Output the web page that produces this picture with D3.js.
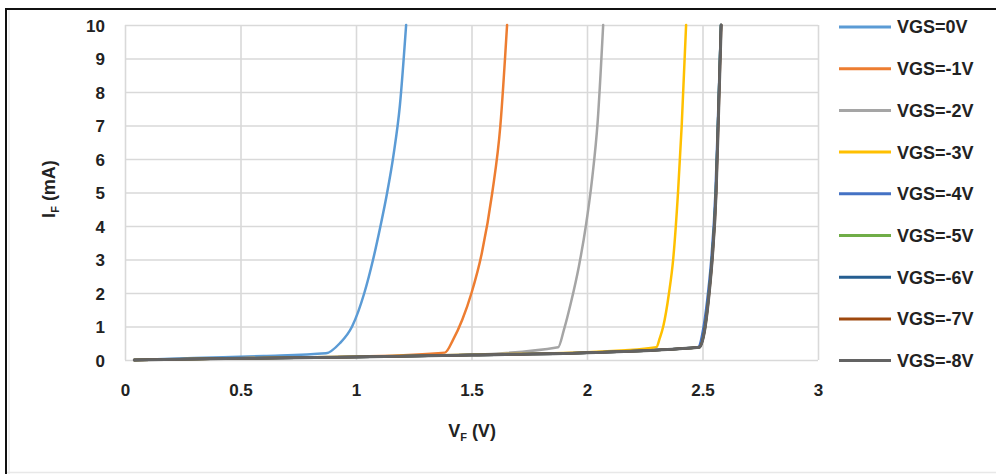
<!DOCTYPE html>
<html><head><meta charset="utf-8">
<script src="https://cdn.jsdelivr.net/npm/d3@7"></script>
<style>
html,body{margin:0;padding:0;background:#fff;}
svg{display:block;font-family:"Liberation Sans",Arial,sans-serif;}
</style></head>
<body><svg id="chart" width="996" height="474"></svg>
<script>
// ---- data ----
const seriesNames = ["VGS=0V","VGS=-1V","VGS=-2V","VGS=-3V","VGS=-4V","VGS=-5V","VGS=-6V","VGS=-7V","VGS=-8V"];
const seriesColors = ["#5B9BD5","#ED7D31","#A5A5A5","#FFC000","#4472C4","#70AD47","#255E91","#9E480E","#636363"];
const xTicks = [0, 0.5, 1, 1.5, 2, 2.5, 3];
const yTicks = [0,1,2,3,4,5,6,7,8,9,10];

const vf0 = [0.04, 0.3, 0.6, 0.87, 0.93, 0.983, 1.036, 1.074, 1.106, 1.135, 1.162, 1.19, 1.217];
const if0 = [0, 0.06, 0.12, 0.2, 0.5, 1, 2, 3, 4, 5, 6.1, 7.6, 10];
const vf1 = [0.04, 0.5, 1.0, 1.385, 1.42, 1.46, 1.50, 1.545, 1.59, 1.625, 1.654];
const if1 = [0, 0.05, 0.1, 0.22, 0.6, 1.2, 2, 3.2, 5, 7, 10];
const vf2 = [0.04, 0.5, 1.0, 1.5, 1.875, 1.90, 1.93, 1.965, 1.995, 2.022, 2.046, 2.07];
const if2 = [0, 0.05, 0.1, 0.16, 0.38, 0.9, 1.7, 2.8, 4.0, 5.4, 7.1, 10];
const vf3 = [0.04, 0.5, 1.0, 1.5, 2.0, 2.30, 2.315, 2.33, 2.355, 2.373, 2.394, 2.41, 2.429];
const if3 = [0, 0.05, 0.1, 0.16, 0.23, 0.38, 0.65, 1, 2, 3, 5, 7, 10];
const vf4 = [0.04, 0.5, 1.0, 1.5, 2.0, 2.48, 2.505, 2.524, 2.538, 2.556, 2.566, 2.58];
const if4 = [0, 0.05, 0.09, 0.15, 0.22, 0.38, 1, 2, 3, 5, 7, 10];
const vf5 = [0.04, 0.5, 1.0, 1.5, 2.0, 2.485, 2.511, 2.528, 2.541, 2.558, 2.567, 2.58];
const if5 = [0, 0.05, 0.09, 0.15, 0.22, 0.38, 1, 2, 3, 5, 7, 10];
const vf6 = [0.04, 0.5, 1.0, 1.5, 2.0, 2.485, 2.511, 2.528, 2.541, 2.558, 2.567, 2.58];
const if6 = [0, 0.05, 0.09, 0.15, 0.22, 0.38, 1, 2, 3, 5, 7, 10];
const vf7 = [0.04, 0.5, 1.0, 1.5, 2.0, 2.485, 2.512, 2.529, 2.542, 2.559, 2.568, 2.581];
const if7 = [0, 0.05, 0.09, 0.15, 0.22, 0.38, 1, 2, 3, 5, 7, 10];
const vf8 = [0.04, 0.5, 1.0, 1.5, 2.0, 2.487, 2.512, 2.529, 2.542, 2.559, 2.568, 2.581];
const if8 = [0, 0.05, 0.09, 0.15, 0.22, 0.38, 1, 2, 3, 5, 7, 10];

const vfAll = [vf0,vf1,vf2,vf3,vf4,vf5,vf6,vf7,vf8];
const ifAll = [if0,if1,if2,if3,if4,if5,if6,if7,if8];

// ---- drawing ----
const svg = d3.select("#chart");
const x = d3.scaleLinear().domain([0,3]).range([125,818]);
const y = d3.scaleLinear().domain([0,10]).range([360,25]);

// outer frame
svg.append("line").attr("x1",6).attr("x2",996).attr("y1",9).attr("y2",9).attr("stroke","#111").attr("stroke-width",2);
svg.append("line").attr("x1",6).attr("x2",6).attr("y1",8).attr("y2",474).attr("stroke","#111").attr("stroke-width",2);
svg.append("line").attr("x1",9).attr("x2",9).attr("y1",10).attr("y2",474).attr("stroke","#e4e4e4").attr("stroke-width",1);
svg.append("line").attr("x1",7).attr("x2",996).attr("y1",472.5).attr("y2",472.5).attr("stroke","#e8e8e8").attr("stroke-width",1.5);

// gridlines
const gx = svg.append("g").attr("transform","translate(0,360)")
  .call(d3.axisBottom(x).tickValues(xTicks).tickSize(-335).tickFormat(""));
gx.select(".domain").remove();
gx.selectAll("line").attr("stroke","#d9d9d9").attr("stroke-width",1.6);
const gy = svg.append("g").attr("transform","translate(125,0)")
  .call(d3.axisLeft(y).tickValues(yTicks).tickSize(-693).tickFormat(""));
gy.select(".domain").remove();
gy.selectAll("line").attr("stroke","#d9d9d9").attr("stroke-width",1.6);

// tick labels
const ax = svg.append("g").attr("transform","translate(0,381)")
  .call(d3.axisBottom(x).tickValues(xTicks).tickSize(0).tickFormat(d=>String(d)));
ax.select(".domain").remove();
ax.selectAll("text").attr("font-size",17).attr("font-weight","bold").attr("fill","#222")
  .attr("font-family","'Liberation Sans',Arial,sans-serif");
const ay = svg.append("g").attr("transform","translate(105,0)")
  .call(d3.axisLeft(y).tickValues(yTicks).tickSize(0).tickFormat(d=>String(d)));
ay.select(".domain").remove();
ay.selectAll("text").attr("font-size",17).attr("font-weight","bold").attr("fill","#222")
  .attr("font-family","'Liberation Sans',Arial,sans-serif").attr("dy","0.36em").attr("x",0);

// axis titles
const xt = svg.append("text").attr("x",472).attr("y",437).attr("text-anchor","middle")
  .attr("font-size",18).attr("font-weight","bold").attr("fill","#222");
xt.append("tspan").text("V");
xt.append("tspan").attr("font-size",11).attr("dy",4).text("F");
xt.append("tspan").attr("dy",-4).text(" (V)");

const yt = svg.append("text").attr("transform","translate(55,189) rotate(-90)").attr("text-anchor","middle")
  .attr("font-size",18).attr("font-weight","bold").attr("fill","#222");
yt.append("tspan").text("I");
yt.append("tspan").attr("font-size",11).attr("dy",4).text("F");
yt.append("tspan").attr("dy",-4).text(" (mA)");

// series lines
const line = d3.line().x(d=>x(d[0])).y(d=>y(d[1])).curve(d3.curveMonotoneX);
seriesNames.forEach((name,i)=>{
  const pts = vfAll[i].map((v,j)=>[v, ifAll[i][j]]);
  svg.append("path").datum(pts).attr("d",line).attr("fill","none")
    .attr("stroke",seriesColors[i]).attr("stroke-width", i===8 ? 3 : 2.5)
    .attr("stroke-linejoin","round").attr("stroke-linecap","round");
});

// legend
const lg = svg.append("g");
seriesNames.forEach((name,i)=>{
  const yy = 27 + i*41.7;
  lg.append("line").attr("x1",839).attr("x2",891).attr("y1",yy).attr("y2",yy)
    .attr("stroke",seriesColors[i]).attr("stroke-width",3);
  lg.append("text").attr("x",897).attr("y",yy).attr("dy","0.36em")
    .attr("font-size",18).attr("font-weight","bold").attr("fill","#222").text(name);
});
</script></body></html>
